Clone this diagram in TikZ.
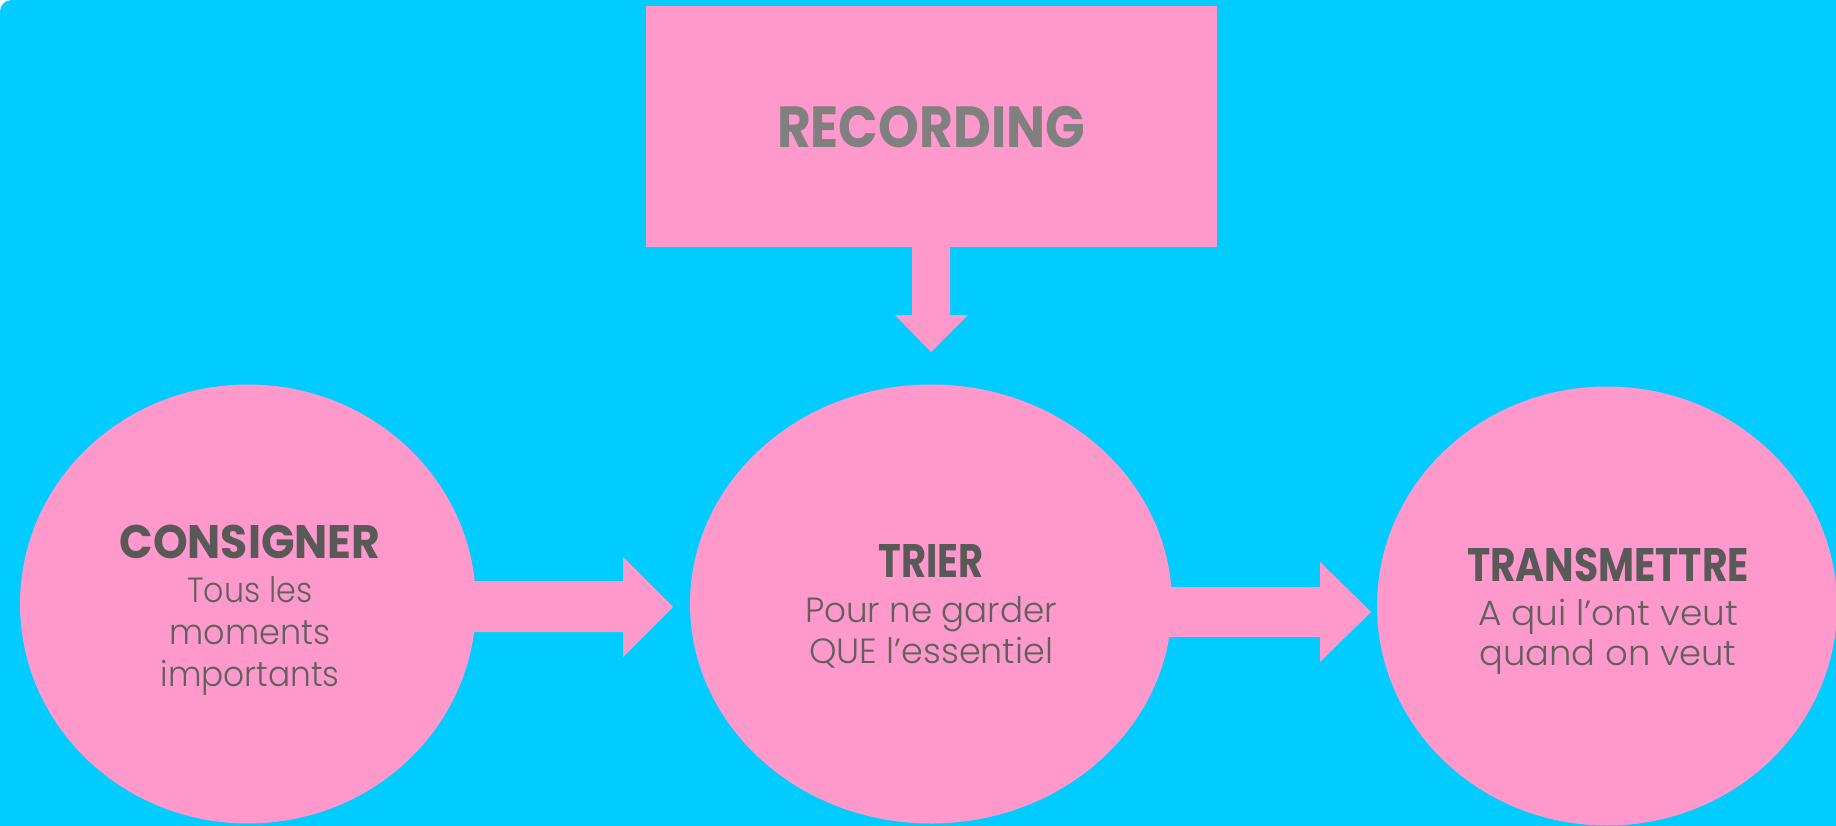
\documentclass[tikz,border=0pt]{standalone}
\usepackage{fontspec}
\setmainfont{Poppins}
\newfontfamily\lightfont{Poppins Light}
\usetikzlibrary{shapes.geometric}
\definecolor{bg}{HTML}{00CCFF}
\definecolor{pinkf}{HTML}{FF99CC}
\definecolor{headc}{HTML}{595959}
\definecolor{recc}{HTML}{808080}
\definecolor{bodyc}{HTML}{606060}
\newcommand{\fitw}[2]{\resizebox{#1}{\height}{#2}}
\begin{document}
\begin{tikzpicture}[x=1pt,y=-1pt,
  blob/.style={ellipse, fill=pinkf, inner sep=0pt, draw=none},
  headtxt/.style={anchor=base, text=headc, inner sep=0pt, font=\fontsize{47}{47}\selectfont\bfseries},
  rectxt/.style={anchor=base, text=recc, inner sep=0pt, font=\fontsize{58}{58}\selectfont\bfseries},
  bodytxt/.style={anchor=base, text=bodyc, inner sep=0pt, font=\fontsize{35}{35}\lightfont},
  blockarrow/.style={fill=pinkf}]
\useasboundingbox (0,0) rectangle (1836,826);
\fill[white] (0,0) rectangle (1836,826);
\fill[bg] (0,826) -- (0,12) .. controls (0,5) and (5,0) .. (12,0) -- (1836,0) -- (1836,826) -- cycle;

% block arrows
\fill[blockarrow] (470,581) -- (623,581) -- (623,557) -- (673,607) -- (623,657) -- (623,632) -- (470,632) -- cycle;
\fill[blockarrow] (1160,587) -- (1320,587) -- (1320,562) -- (1371,612) -- (1320,662) -- (1320,637) -- (1160,637) -- cycle;
\fill[blockarrow] (912,240) -- (950,240) -- (950,315) -- (968,315) -- (931,352) -- (895,315) -- (912,315) -- cycle;

% shapes
\node[fill=pinkf, minimum width=571pt, minimum height=241pt, inner sep=0pt] (rec) at (931.5,126.5) {};
\node[blob, minimum width=456pt, minimum height=439pt] (cons) at (248,604) {};
\node[blob, minimum width=482pt, minimum height=439pt] (trier) at (931,604) {};
\node[blob, minimum width=460pt, minimum height=439pt] (trans) at (1607,606) {};

% texts
\node[rectxt] (recT) at (931,148) {\fitw{308pt}{RECORDING}};

\node[headtxt] (consH) at (250,558) {\fitw{261pt}{CONSIGNER}};
\node[bodytxt] (consA) at (250,602) {\fitw{125pt}{Tous les}};
\node[bodytxt] (consB) at (250,644) {\fitw{161pt}{moments}};
\node[bodytxt] (consC) at (250,686) {\fitw{179pt}{importants}};

\node[headtxt] (trierH) at (931,577) {\fitw{105pt}{TRIER}};
\node[bodytxt] (trierA) at (931,622) {\fitw{252pt}{Pour ne garder}};
\node[bodytxt] (trierB) at (931,663) {\fitw{244pt}{QUE l’essentiel}};

\node[headtxt] (transH) at (1608,581) {\fitw{282pt}{TRANSMETTRE}};
\node[bodytxt] (transA) at (1608,625) {\fitw{260pt}{A qui l’ont veut}};
\node[bodytxt] (transB) at (1608,665) {\fitw{257pt}{quand on veut}};
\end{tikzpicture}
\end{document}
